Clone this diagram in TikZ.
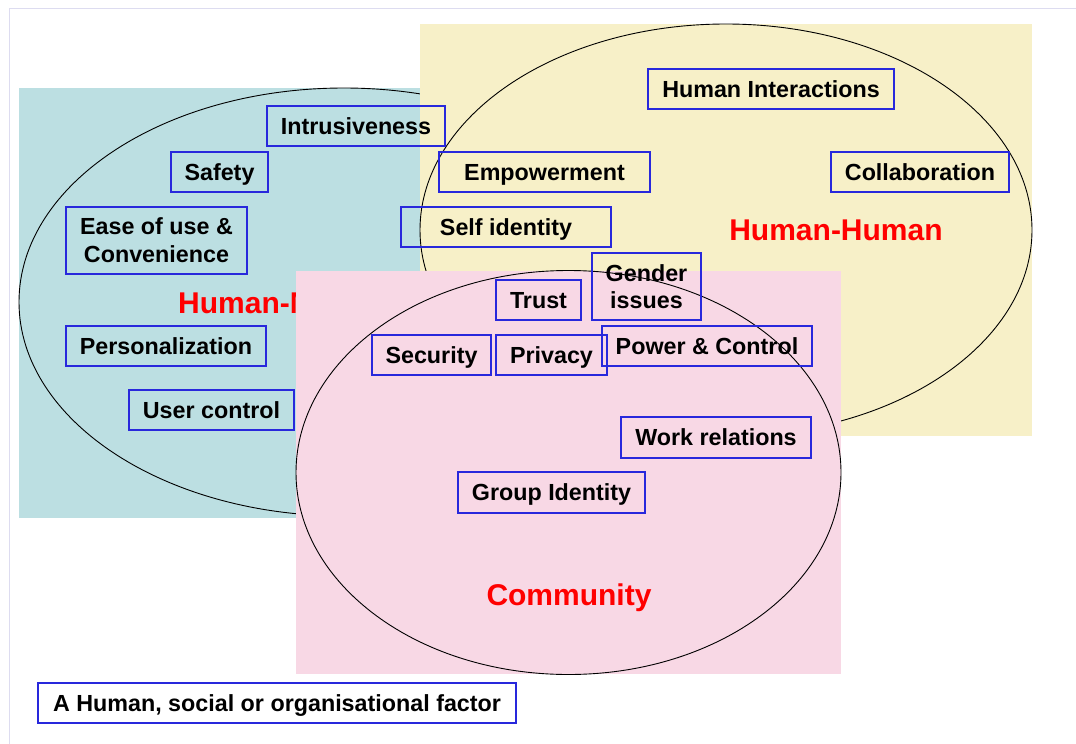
\documentclass[tikz,border=0pt]{standalone}
\usepackage{fontspec}
\setmainfont{Liberation Sans}
\definecolor{bluebg}{RGB}{188,223,226}
\definecolor{yellowbg}{RGB}{247,240,200}
\definecolor{pinkbg}{RGB}{248,216,229}
\definecolor{boxblue}{RGB}{40,40,220}
\definecolor{framec}{RGB}{221,220,240}
\definecolor{labred}{RGB}{255,0,0}
\tikzset{
  factor/.style={draw=boxblue, line width=1.3pt, inner sep=0pt, text=black,
    font=\fontsize{23.3}{28}\selectfont\bfseries},
  oneline/.style={factor, text height=16.7pt, text depth=0pt},
  twoline/.style={factor, align=center},
  area/.style={text=labred, inner sep=0pt, text height=21.5pt, text depth=0pt,
    font=\fontsize{30}{36}\selectfont\bfseries},
  outline/.style={draw=black, line width=0.9pt},
}
\begin{document}
\begin{tikzpicture}[x=1pt,y=-1pt]
\useasboundingbox[fill=white] (0,0) rectangle (1076,744);
\draw[framec, line width=1.2pt] (9.5,744) -- (9.5,8.5) -- (1076,8.5);
% Human-Machine region
\fill[bluebg] (19,88) rectangle (669,518);
\draw[outline] (344,302) ellipse [x radius=325pt, y radius=214pt];
\node[area, anchor=west] (hm) at (178,303) {Human-Machine};
% Human-Human region
\fill[yellowbg] (420,24) rectangle (1032,436);
\draw[outline] (726,230) ellipse [x radius=306pt, y radius=206pt];
\node[area] (hh) at (836,230) {Human-Human};
% Community region
\fill[pinkbg] (296,271) rectangle (841,674);
\draw[outline] (568.5,472.5) ellipse [x radius=272.5pt, y radius=202pt];
\node[area] (comm) at (569,595) {Community};
% factors
\node[oneline, minimum width=178pt, minimum height=40pt] (intr) at (356,126) {Intrusiveness};
\node[oneline, minimum width=97pt, minimum height=40pt] (safety) at (219.5,172) {Safety};
\node[twoline, minimum width=181pt, minimum height=67pt] (ease) at (156.5,240.5) {Ease of use \&\\Convenience};
\node[oneline, minimum width=200pt, minimum height=40pt] (pers) at (166,346) {Personalization};
\node[oneline, minimum width=165pt, minimum height=40pt] (user) at (211.5,410) {User control};
\node[oneline, minimum width=246pt, minimum height=40pt] (hi) at (771,89) {Human Interactions};
\node[oneline, minimum width=211pt, minimum height=40pt] (emp) at (544.5,172) {Empowerment};
\node[oneline, minimum width=178pt, minimum height=40pt] (coll) at (920,172) {Collaboration};
\node[oneline, minimum width=210pt, minimum height=40pt] (self) at (506,227) {Self identity};
\node[twoline, minimum width=109pt, minimum height=67pt,
  font=\fontsize{23.3}{27}\selectfont\bfseries] (gender) at (646.5,286.5) {Gender\\issues};
\node[oneline, minimum width=85pt, minimum height=40pt] (trust) at (538.5,300) {Trust};
\node[oneline, minimum width=119pt, minimum height=40pt] (sec) at (431.5,355) {Security};
\node[oneline, minimum width=111pt, minimum height=40pt] (priv) at (551.5,355) {Privacy};
\node[oneline, minimum width=210pt, minimum height=40pt] (power) at (707,346) {Power \& Control};
\node[oneline, minimum width=190pt, minimum height=41pt] (work) at (716,437.5) {Work relations};
\node[oneline, minimum width=187pt, minimum height=41pt] (group) at (551.5,492.5) {Group Identity};
\node[oneline, minimum width=478pt, minimum height=40pt] (legend) at (277,703) {A Human, social or organisational factor};
\end{tikzpicture}
\end{document}
